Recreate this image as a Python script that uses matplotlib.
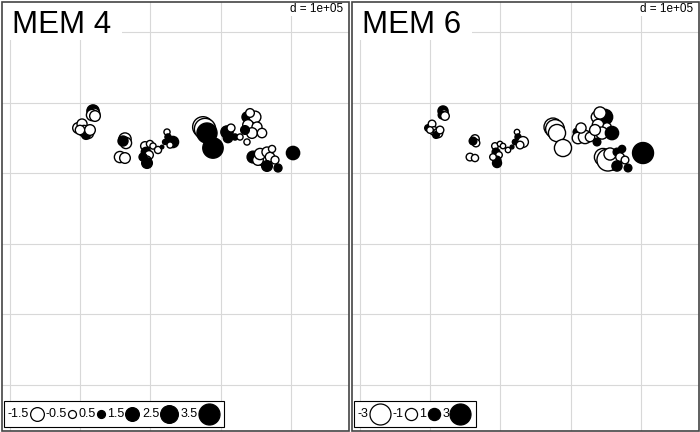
import numpy as np
import matplotlib.pyplot as plt
from matplotlib.patches import Rectangle

plt.rcParams['font.family'] = ['Liberation Sans', 'DejaVu Sans']

# site coordinates (km)
x_km = [274.7, 358.5,
        118.5, 119.9, 117.1, 121.3, 97.2, 102.9, 105.7, 111.4, 108.5, 100.0,
        114.2, 163.9, 165.3, 161.1, 156.8, 163.9, 192.3, 199.4, 193.7, 198.0,
        195.2, 195.2, 203.7, 210.8, 189.5, 223.6, 225.0, 220.8, 232.1, 216.5,
        227.9, 277.6, 280.4, 288.9, 308.8, 310.2, 320.2, 327.3, 314.5, 337.2,
        348.6, 338.7, 351.4, 344.3, 358.5, 337.2, 341.5, 334.4, 345.7, 352.8,
        355.7, 365.6, 369.9, 365.6, 377.0, 381.3, 402.6, 372.8]
y_km = [365.4, 318.7,
        388.1, 383.8, 382.4, 381.0, 364.0, 369.7, 359.8, 356.9, 354.1, 361.2,
        361.2, 348.4, 342.8, 345.6, 322.9, 321.5, 338.5, 341.4, 330.0, 325.8,
        318.7, 314.4, 338.5, 332.9, 322.9, 358.3, 351.3, 344.2, 344.2, 337.1,
        339.9, 362.6, 356.9, 335.7, 358.3, 349.9, 351.3, 351.3, 364.0, 379.6,
        379.6, 368.3, 365.4, 356.9, 356.9, 344.2, 385.3, 361.2, 322.9, 318.7,
        327.2, 330.0, 322.9, 310.2, 318.7, 307.4, 328.6, 334.3]

mem4 = [-3.4, -0.9,
        1.2, -1.1, -1.0, -0.9, -0.9, -0.8, -1.0, -1.0, 0.6, -0.7,
        -0.9, -1.2, -1.0, 0.8, -1.0, -0.9, -0.6, -0.4, 0.7, -0.6,
        -0.5, 0.9, -0.3, -0.4, 0.5, -0.3, 0.3, 0.2, 1.0, 0.1,
        -0.3, -3.6, 3.2, 3.3, 1.2, 0.7, 0.3, -0.3, -0.5, 0.8,
        -1.1, -0.9, -0.8, -0.9, -0.7, -0.3, -0.6, 0.6, 1.1, -0.9,
        -1.0, -0.8, -0.7, 0.9, -0.5, 0.5, 1.4, -0.4]
mem6 = [-2.2, -2.8,
        0.7, -0.5, 0.4, -0.5, 0.3, -0.4, -0.5, -0.6, 0.3, -0.3,
        -0.4, -0.5, -0.4, 0.4, -0.4, -0.35, -0.3, -0.2, 0.4, -0.3,
        0.4, 0.55, -0.2, -0.2, -0.3, -0.2, 0.25, 0.2, -0.8, 0.1,
        -0.4, -2.4, -2.0, -2.0, 0.4, -0.9, -1.2, -0.6, -0.7, -0.9,
        1.6, -0.9, -0.5, -1.0, 1.2, 0.4, -1.0, -0.8, -2.0, -3.3,
        -1.0, 0.4, -0.5, 0.7, -0.4, 0.4, 3.0, 0.35]

leg4 = [-1.5, -0.5, 0.5, 1.5, 2.5, 3.5]
leg6 = [-3, -1, 1, 3]
titles = ['MEM 4', 'MEM 6']
d_label = 'd = 1e+05'

W, H = 700, 432
fig = plt.figure(figsize=(7, 4.32), dpi=100)
ov = fig.add_axes([0, 0, 1, 1], zorder=5)
ov.set_xlim(0, W)
ov.set_ylim(H, 0)
ov.axis('off')
ov.patch.set_alpha(0)
rend = fig.canvas.get_renderer()


def diam(v, vmax):
    return 21 * np.sqrt(np.abs(np.asarray(v, float)) / vmax)


def area(d):
    return (d * 0.72) ** 2


panels = [(1.5, mem4, leg4, titles[0]), (351.5, mem6, leg6, titles[1])]
pw, ph = 347, 429

for x0, vals, leg, title in panels:
    ax = fig.add_axes([x0 / W, (H - 430.5) / H, pw / W, ph / H])
    ax.set_xlim(-11.5e3, 481.4e3)
    ax.set_ylim(-64.4e3, 543.2e3)
    ax.set_xticks(np.arange(0, 5) * 1e5)
    ax.set_yticks(np.arange(0, 6) * 1e5)
    ax.grid(True, color='#d8d8d8', lw=0.8)
    ax.tick_params(length=0, labelbottom=False, labelleft=False)
    for sp in ax.spines.values():
        sp.set_visible(False)
    vmax = max(abs(v) for v in leg)
    v = np.array(vals)
    ax.scatter(np.array(x_km) * 1e3, np.array(y_km) * 1e3, s=area(diam(v, vmax)),
               c=np.where(v > 0, 'black', 'white'), edgecolors='black',
               linewidths=1.0, zorder=3)

    # title box
    ov.add_patch(Rectangle((x0 + 0.5, 2), 120, 38, fc='white', ec='none'))
    ov.text(x0 + 10.5, 33, title, fontsize=22.5, va='baseline', ha='left')

    # d label
    ov.add_patch(Rectangle((x0 + 285, 2), 62, 14, fc='white', ec='none'))
    ov.text(x0 + 342, 3.5, d_label, fontsize=8.5, va='top', ha='right')

    # legend
    lx = x0 + 6
    ly = 414
    right = lx
    for lv in leg:
        t = ov.text(lx, ly, f'{lv:g}', fontsize=9, va='center', ha='left', zorder=7)
        tw = t.get_window_extent(rend).width
        d = float(diam(lv, vmax))
        cx = lx + tw + 1 + d / 2
        ov.scatter([cx], [ly], s=area(d), c='black' if lv > 0 else 'white',
                   edgecolors='black', linewidths=0.9, zorder=7)
        right = cx + d / 2
        lx = right + 2.5
    ov.add_patch(Rectangle((x0 + 2.5, 401), right + 5 - (x0 + 2.5), 26, fc='white',
                           ec='black', lw=0.8, zorder=6))

    # panel border
    ov.add_patch(Rectangle((x0, 1.5), pw, ph, fill=False, ec='#444444', lw=1.2, zorder=8))

fig.savefig('out.png', dpi=100)
